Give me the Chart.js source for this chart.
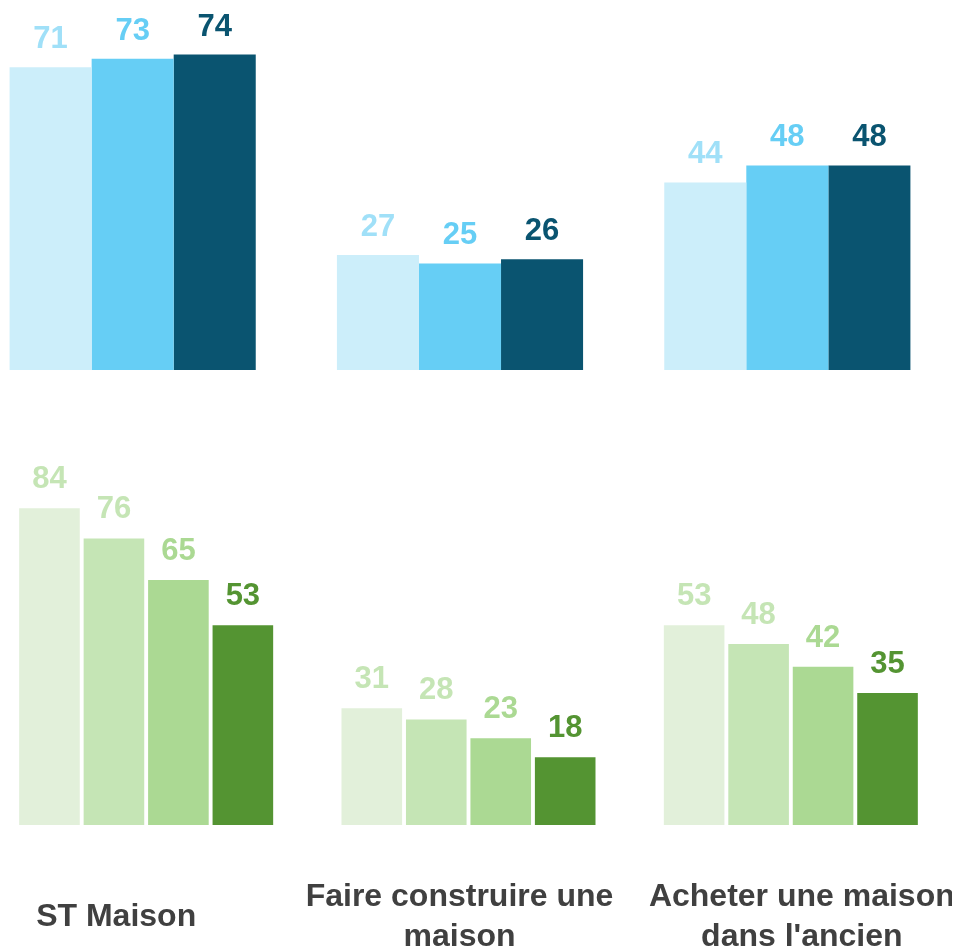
<!DOCTYPE html>
<html>
<head>
<meta charset="utf-8">
<script src="https://cdn.jsdelivr.net/npm/chart.js@4"></script>
<style>
  html, body { margin: 0; padding: 0; background: #fff; overflow: hidden; }
  body { width: 958px; height: 950px; position: relative; }
  #wrapTop { position: absolute; left: -31px; top: 0; width: 982px; height: 380px; }
  #wrapBottom { position: absolute; left: -15px; top: 400px; width: 967px; height: 550px; }
</style>
</head>
<body>
<div id="wrapTop"><canvas id="chartTop"></canvas></div>
<div id="wrapBottom"><canvas id="chartBottom"></canvas></div>
<script>
// Categories (x axis)
const categories = [
    ["ST Maison"],
    ["Faire construire une", "maison"],
    ["Acheter une maison", "dans l'ancien"]
];

// Top chart: 3 series (blue)
const topSerie1 = [71, 27, 44];
const topSerie2 = [73, 25, 48];
const topSerie3 = [74, 26, 48];

// Bottom chart: 4 series (green)
const bottomSerie1 = [84, 31, 53];
const bottomSerie2 = [76, 28, 48];
const bottomSerie3 = [65, 23, 42];
const bottomSerie4 = [53, 18, 35];

const blueBars = ['#CCEEFA', '#66CEF5', '#0A5470'];
const blueLabels = ['#A0E0F8', '#66CEF5', '#0A5470'];
const greenBars = ['#E2F0DA', '#C5E5B5', '#ABD993', '#549432'];
const greenLabels = ['#C5E5B5', '#C5E5B5', '#ABD993', '#549432'];

const labelFont = 'bold 31px "Liberation Sans", Arial, sans-serif';

// Plugin: value labels above each bar
const valueLabels = {
    id: 'valueLabels',
    afterDatasetsDraw(chart, args, opts) {
        const ctx = chart.ctx;
        ctx.save();
        ctx.font = labelFont;
        ctx.textAlign = 'center';
        ctx.textBaseline = 'alphabetic';
        chart.data.datasets.forEach((ds, i) => {
            const meta = chart.getDatasetMeta(i);
            meta.data.forEach((bar, j) => {
                ctx.fillStyle = opts.colors[i];
                ctx.fillText(ds.data[j], bar.x, bar.y - opts.gap);
            });
        });
        ctx.restore();
    }
};

// Plugin: category labels under the bottom chart
const categoryLabels = {
    id: 'categoryLabels',
    afterDraw(chart, args, opts) {
        const ctx = chart.ctx;
        const xScale = chart.scales.x;
        ctx.save();
        ctx.font = 'bold 32px "Liberation Sans", Arial, sans-serif';
        ctx.fillStyle = '#404040';
        ctx.textAlign = 'center';
        ctx.textBaseline = 'middle';
        categories.forEach((lines, i) => {
            const x = xScale.getPixelForValue(i) + opts.shift[i];
            const lineH = 40;
            const y0 = opts.centerY - (lines.length - 1) * lineH / 2;
            lines.forEach((line, k) => {
                ctx.fillText(line, x, y0 + k * lineH);
            });
        });
        ctx.restore();
    }
};

function makeOptions(max, padding) {
    return {
        responsive: true,
        maintainAspectRatio: false,
        animation: false,
        layout: { padding: padding },
        plugins: { legend: { display: false }, tooltip: { enabled: false } },
        scales: {
            x: { display: false },
            y: { display: false, min: 0, max: max }
        }
    };
}

const topOptions = makeOptions(80, { top: 29, bottom: 10, left: 0, right: 0 });
topOptions.plugins.valueLabels = { colors: blueLabels, gap: 19 };

new Chart(document.getElementById('chartTop'), {
    type: 'bar',
    data: {
        labels: categories,
        datasets: [topSerie1, topSerie2, topSerie3].map((d, i) => ({
            data: d,
            backgroundColor: blueBars[i],
            borderWidth: 0,
            barPercentage: 1,
            categoryPercentage: 0.752
        }))
    },
    options: topOptions,
    plugins: [valueLabels]
});

const bottomOptions = makeOptions(100, { top: 48, bottom: 125, left: 0, right: 0 });
bottomOptions.plugins.valueLabels = { colors: greenLabels, gap: 20 };
bottomOptions.plugins.categoryLabels = { shift: [-30, -9, 11], centerY: 517 };

new Chart(document.getElementById('chartBottom'), {
    type: 'bar',
    data: {
        labels: categories,
        datasets: [bottomSerie1, bottomSerie2, bottomSerie3, bottomSerie4].map((d, i) => ({
            data: d,
            backgroundColor: greenBars[i],
            borderWidth: 0,
            barPercentage: 0.94,
            categoryPercentage: 0.8
        }))
    },
    options: bottomOptions,
    plugins: [valueLabels, categoryLabels]
});
</script>
</body>
</html>
